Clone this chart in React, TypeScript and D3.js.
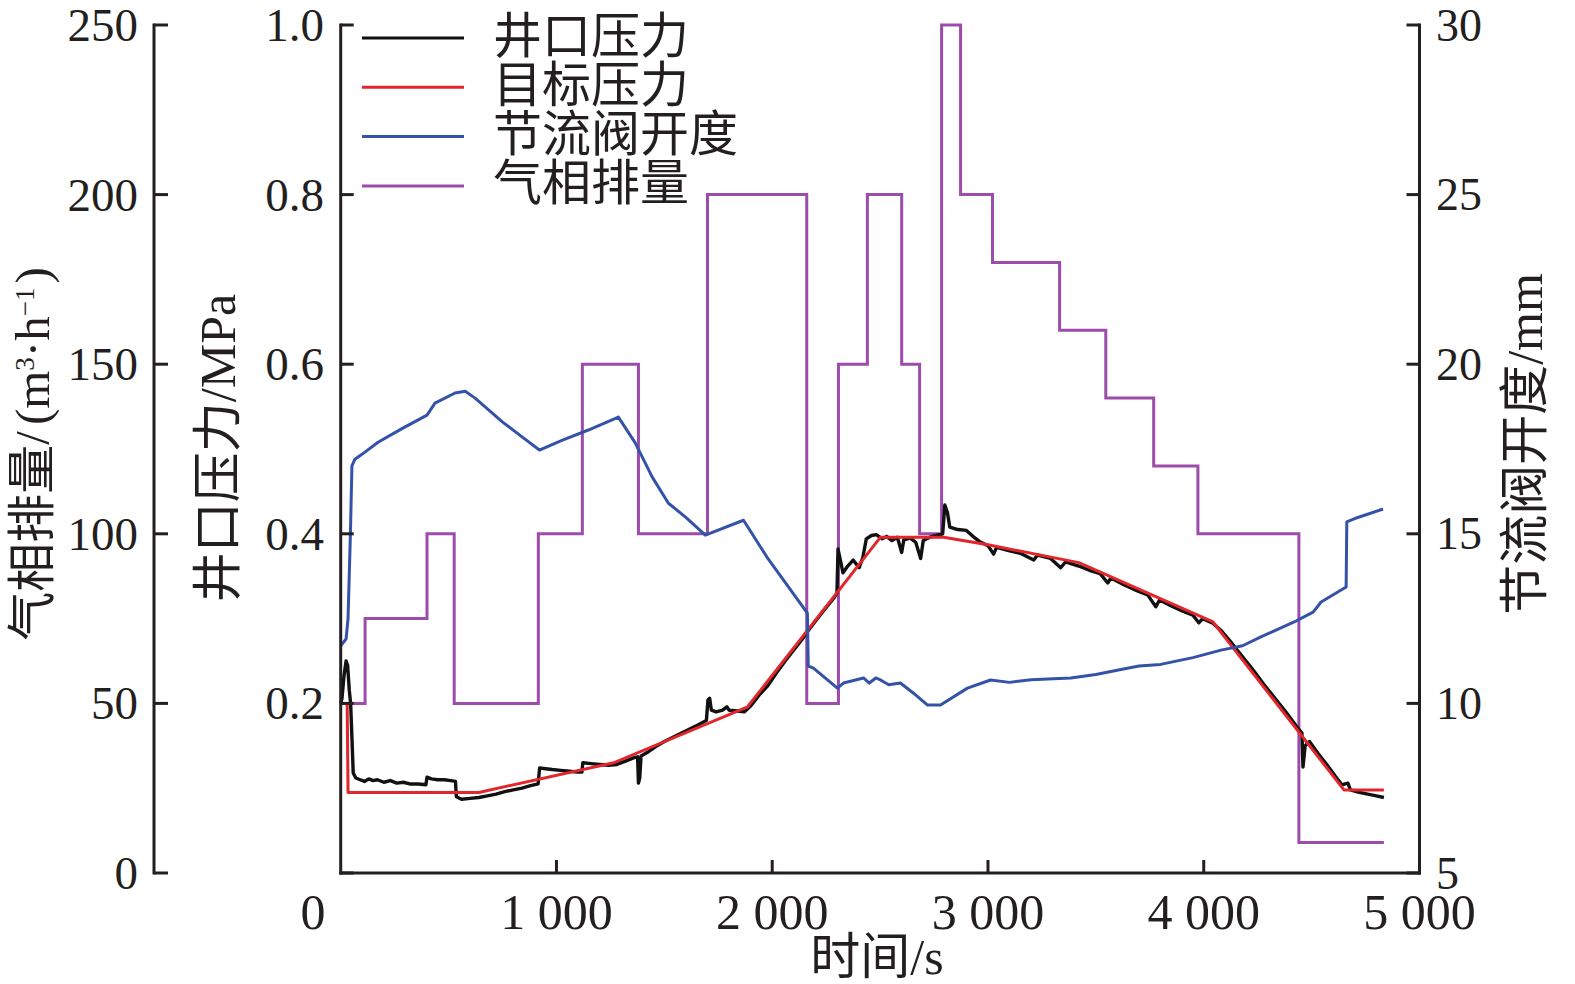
import React from 'react';
import * as d3 from 'd3';

// ---------- tick values ----------
const timeTicks = [0, 1000, 2000, 3000, 4000, 5000];
const gasTicks = [0, 50, 100, 150, 200, 250];
const pressureTicks = [0, 0.2, 0.4, 0.6, 0.8, 1.0];
const pressureLabels = [0.2, 0.4, 0.6, 0.8, 1.0];
const valveTicks = [5, 10, 15, 20, 25, 30];

// ---------- 气相排量 (step) ----------
const gasTime = [0, 113, 400, 526, 916, 1120, 1380, 1700, 2160, 2307, 2441, 2600, 2683, 2785, 2873, 3021, 3332, 3546, 3768, 3973, 4441, 4835];
const gasRate = [50, 75, 100, 50, 100, 150, 100, 200, 50, 150, 200, 150, 100, 250, 200, 180, 160, 140, 120, 100, 9, 9];

// ---------- 目标压力 ----------
const targetTime = [30, 34, 640, 1265, 1886, 2502, 2794, 3000, 3421, 4043, 4650, 4835];
const targetPressure = [0.2, 0.095, 0.095, 0.13, 0.196, 0.396, 0.396, 0.387, 0.366, 0.296, 0.098, 0.098];

// ---------- 节流阀开度 ----------
const valveTime = [0, 25, 34, 45, 52, 66, 100, 173, 284, 400, 437, 530, 577, 623, 749, 842, 921, 1028, 1148, 1287, 1365, 1444, 1519, 1597, 1690, 1867, 1977, 2163, 2167, 2191, 2302, 2330, 2423, 2450, 2480, 2502, 2540, 2594, 2655, 2720, 2780, 2905, 3012, 3100, 3200, 3384, 3500, 3616, 3700, 3800, 3950, 4080, 4180, 4265, 4419, 4507, 4544, 4660, 4663, 4700, 4831];
const valveOpening = [11.7, 11.9, 12.5, 15.0, 17.0, 17.2, 17.35, 17.7, 18.1, 18.5, 18.85, 19.15, 19.2, 19.0, 18.3, 17.85, 17.47, 17.76, 18.06, 18.44, 17.68, 16.67, 15.9, 15.5, 14.96, 15.4, 14.3, 12.66, 11.1, 11.04, 10.45, 10.6, 10.75, 10.6, 10.75, 10.69, 10.55, 10.6, 10.3, 9.95, 9.95, 10.45, 10.69, 10.62, 10.7, 10.75, 10.85, 11.0, 11.1, 11.15, 11.35, 11.57, 11.7, 11.96, 12.4, 12.69, 12.99, 13.43, 15.35, 15.45, 15.73];

// ---------- 井口压力 ----------
const wellTime = [0, 6, 15, 25, 32, 40, 46, 52, 58, 70, 90, 110, 130, 150, 170, 200, 230, 260, 290, 320, 360, 395, 400, 420, 450, 480, 510, 532, 536, 560, 600, 640, 680, 720, 760, 800, 840, 880, 915, 922, 950, 980, 1020, 1060, 1100, 1118, 1122, 1160, 1200, 1240, 1280, 1320, 1360, 1376, 1380, 1386, 1392, 1420, 1460, 1500, 1540, 1580, 1620, 1660, 1695, 1702, 1710, 1718, 1740, 1770, 1790, 1800, 1840, 1870, 1900, 1940, 1980, 2020, 2060, 2100, 2140, 2170, 2200, 2240, 2285, 2300, 2305, 2315, 2328, 2350, 2375, 2403, 2420, 2436, 2460, 2482, 2510, 2530, 2555, 2580, 2600, 2610, 2640, 2665, 2688, 2700, 2730, 2760, 2790, 2800, 2812, 2823, 2860, 2900, 2930, 2960, 3000, 3026, 3040, 3100, 3150, 3212, 3230, 3290, 3337, 3360, 3420, 3470, 3520, 3555, 3570, 3630, 3690, 3740, 3778, 3795, 3850, 3900, 3950, 3977, 3995, 4040, 4080, 4130, 4180, 4230, 4280, 4330, 4380, 4430, 4455, 4460, 4470, 4490, 4530, 4570, 4610, 4640, 4668, 4680, 4720, 4760, 4800, 4835];
const wellPressure = [0.2, 0.206, 0.232, 0.25, 0.245, 0.215, 0.2, 0.16, 0.118, 0.112, 0.11, 0.108, 0.111, 0.109, 0.11, 0.107, 0.109, 0.106, 0.107, 0.105, 0.105, 0.104, 0.113, 0.111, 0.11, 0.11, 0.109, 0.108, 0.09, 0.087, 0.088, 0.089, 0.091, 0.093, 0.096, 0.098, 0.1, 0.103, 0.105, 0.124, 0.123, 0.122, 0.121, 0.12, 0.119, 0.119, 0.13, 0.129, 0.128, 0.127, 0.128, 0.132, 0.136, 0.137, 0.106, 0.112, 0.138, 0.142, 0.149, 0.155, 0.16, 0.165, 0.17, 0.175, 0.18, 0.204, 0.206, 0.192, 0.19, 0.192, 0.196, 0.192, 0.191, 0.19, 0.197, 0.21, 0.221, 0.236, 0.25, 0.263, 0.276, 0.287, 0.297, 0.31, 0.324, 0.33, 0.382, 0.37, 0.354, 0.362, 0.369, 0.36, 0.372, 0.394, 0.398, 0.399, 0.394, 0.397, 0.392, 0.396, 0.378, 0.393, 0.395, 0.39, 0.371, 0.392, 0.396, 0.398, 0.4, 0.434, 0.425, 0.408, 0.405, 0.404, 0.397, 0.391, 0.386, 0.376, 0.384, 0.38, 0.377, 0.369, 0.375, 0.371, 0.36, 0.367, 0.362, 0.357, 0.353, 0.342, 0.348, 0.34, 0.333, 0.328, 0.314, 0.322, 0.315, 0.309, 0.304, 0.295, 0.3, 0.295, 0.286, 0.271, 0.255, 0.239, 0.222, 0.206, 0.19, 0.173, 0.165, 0.125, 0.15, 0.155, 0.141, 0.128, 0.114, 0.104, 0.106, 0.098, 0.095, 0.093, 0.091, 0.089];

const legendItems = ['井口压力', '目标压力', '节流阀开度', '气相排量'];
const legendColors = ['#111111', '#e2262b', '#3452a8', '#9c4caa'];

const SERIF = '"Liberation Serif", "Times New Roman", "Noto Sans CJK SC", serif';
const INK = '#231f20';

export default function App() {
  const W = 1575;
  const H = 984;
  const x = d3.scaleLinear().domain([0, 5000]).range([340.7, 1419.5]);
  const yP = d3.scaleLinear().domain([0, 1]).range([873, 25]);
  const yG = d3.scaleLinear().domain([0, 250]).range([873, 25]);
  const yV = d3.scaleLinear().domain([5, 30]).range([873, 25]);

  const fmt = d3.formatLocale({ decimal: '.', thousands: ' ', grouping: [3], currency: ['', ''] }).format(',');

  const gasLine = d3.line<number>().x((_, i) => x(gasTime[i])).y((d) => yG(d)).curve(d3.curveStepAfter);
  const targetLine = d3.line<number>().x((_, i) => x(targetTime[i])).y((d) => yP(d));
  const valveLine = d3.line<number>().x((_, i) => x(valveTime[i])).y((d) => yV(d));
  const wellLine = d3.line<number>().x((_, i) => x(wellTime[i])).y((d) => yP(d));

  const outerX = 154;
  const x0 = x(0);
  const x1 = x(5000);
  const yB = yP(0);
  const yT = yP(1);

  return (
    <svg width={W} height={H} style={{ position: 'absolute', left: 0, top: 0, background: '#fff' }} fontFamily={SERIF}>
      <rect x={0} y={0} width={W} height={H} fill="#fff" />

      {/* data */}
      <path d={gasLine(gasRate) || ''} fill="none" stroke={legendColors[3]} strokeWidth={3} />
      <path d={wellLine(wellPressure) || ''} fill="none" stroke={legendColors[0]} strokeWidth={3.4} strokeLinejoin="round" />
      <path d={targetLine(targetPressure) || ''} fill="none" stroke={legendColors[1]} strokeWidth={3} strokeLinejoin="round" />
      <path d={valveLine(valveOpening) || ''} fill="none" stroke={legendColors[2]} strokeWidth={3} strokeLinejoin="round" />

      {/* outer left axis: gas */}
      <line x1={outerX} x2={outerX} y1={yG(250) - 1.5} y2={yG(0) + 1.5} stroke={INK} strokeWidth={3} />
      {gasTicks.map((t) => (
        <g key={'g' + t}>
          <line x1={outerX} x2={outerX + 14} y1={yG(t)} y2={yG(t)} stroke={INK} strokeWidth={3} />
          <text x={138} y={yG(t)} textAnchor="end" dominantBaseline="central" fontSize={47} fill={INK}>{t}</text>
        </g>
      ))}

      {/* inner left axis: pressure */}
      <line x1={x0} x2={x0} y1={yT - 1.5} y2={yB + 1.5} stroke={INK} strokeWidth={3} />
      {pressureTicks.map((t) => (
        <line key={'p' + t} x1={x0} x2={x0 + 13} y1={yP(t)} y2={yP(t)} stroke={INK} strokeWidth={3} />
      ))}
      {pressureLabels.map((t) => (
        <text key={'pl' + t} x={324} y={yP(t)} textAnchor="end" dominantBaseline="central" fontSize={47} fill={INK}>{t.toFixed(1)}</text>
      ))}

      {/* right axis: valve */}
      <line x1={x1} x2={x1} y1={yT - 1.5} y2={yB + 1.5} stroke={INK} strokeWidth={3} />
      {valveTicks.map((t) => (
        <g key={'v' + t}>
          <line x1={x1 - 13} x2={x1} y1={yV(t)} y2={yV(t)} stroke={INK} strokeWidth={3} />
          <text x={1436} y={yV(t)} textAnchor="start" dominantBaseline="central" fontSize={46} fill={INK}>{t}</text>
        </g>
      ))}

      {/* bottom axis: time */}
      <line x1={x0 - 1.5} x2={x1 + 1.5} y1={yB} y2={yB} stroke={INK} strokeWidth={3} />
      {timeTicks.map((t) => (
        <g key={'t' + t}>
          {t > 0 && t < 5000 && <line x1={x(t)} x2={x(t)} y1={yB} y2={yB - 13} stroke={INK} strokeWidth={3} />}
          <text x={t === 0 ? 313 : x(t)} y={929} textAnchor="middle" fontSize={50} fill={INK}>{fmt(t)}</text>
        </g>
      ))}

      {/* axis titles */}
      <text x={877} y={974} textAnchor="middle" fontSize={50} fill={INK}>时间/s</text>
      <text transform="translate(218,448) rotate(-90)" textAnchor="middle" dominantBaseline="central" fontSize={50} fill={INK}>井口压力/MPa</text>
      <text transform="translate(32,454) rotate(-90)" textAnchor="middle" fontSize={49} fill={INK} dy={17}>
        <tspan>气相排量/</tspan>
        <tspan dx={6}>(</tspan>
        <tspan>m</tspan>
        <tspan fontSize={27} dy={-15}>3</tspan>
        <tspan dy={15}>·h</tspan>
        <tspan fontSize={27} dy={-15}>−1</tspan>
        <tspan dy={15} dx={4}>)</tspan>
      </text>
      <text transform="translate(1525,444) rotate(-90)" textAnchor="middle" dominantBaseline="central" fontSize={50} fill={INK}>节流阀开度/mm</text>

      {/* legend */}
      {legendItems.map((name, i) => {
        const ly = 38 + i * 49.3;
        return (
          <g key={name}>
            <line x1={362} x2={464} y1={ly} y2={ly} stroke={legendColors[i]} strokeWidth={3} />
            <text x={493} y={ly - 2} dominantBaseline="central" fontSize={49} fill={INK}>{name}</text>
          </g>
        );
      })}
    </svg>
  );
}
